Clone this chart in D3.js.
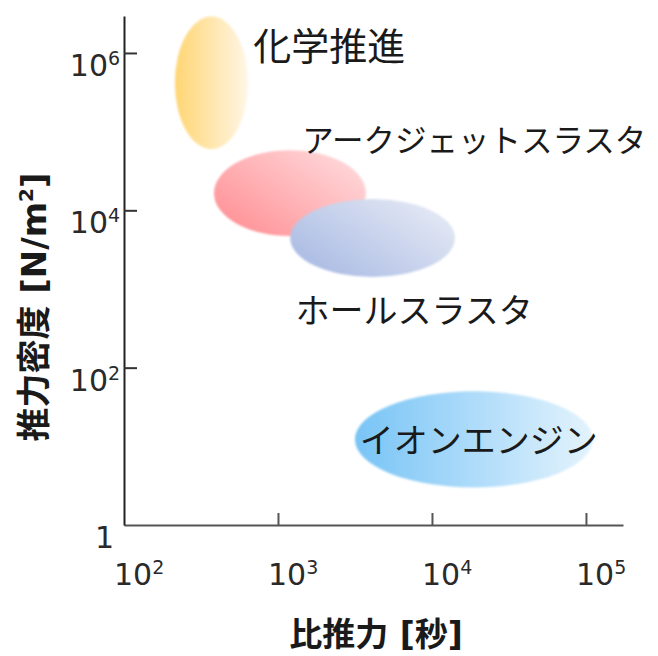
<!DOCTYPE html>
<html>
  <head>
    <meta charset="utf-8">
    <title>推力密度と比推力</title>
    <script src="https://cdn.jsdelivr.net/npm/d3@7/dist/d3.min.js"></script>
    <style>
      body { margin: 0; background: #fff; }
      text { fill: #1a1a1a; }
    </style>
  </head>
  <body>
    <svg width="658" height="656"></svg>
    <script>
      // 推進機の種類
      const engines = ['化学推進', 'アークジェットスラスタ', 'ホールスラスタ', 'イオンエンジン']
      // 比推力の範囲 [秒]
      const ispRange = [[214, 638], [384, 3720], [1200, 14100], [3160, 111000]]
      // 推力密度の範囲 [N/m2]
      const densityRange = [[6.0e4, 2.9e6], [4700, 5.8e4], [1420, 13900], [3.0, 50]]
      // ラベルの位置 (データ座標: 比推力, 推力密度)
      const labelIsp = [690, 1440, 1300, 3400]
      const labelDensity = [1.3e6, 8.3e4, 560, 12.4]
      // 目盛
      const xTicks = [1e2, 1e3, 1e4, 1e5]
      const yTicks = [1, 1e2, 1e4, 1e6]

      const colors = [
        ['#FFD674', '#FFF6E6'],
        ['#FF8A8F', '#FFD8DA'],
        ['#A3B6E1', '#E2E7F4'],
        ['#78C4F6', '#E4F3FD']
      ]
      // グラデーションの向き
      const gradDir = [
        { x1: 0, y1: 0, x2: 1, y2: 0 },
        { x1: 0, y1: 1, x2: 1, y2: 0.2 },
        { x1: 0, y1: 1, x2: 1, y2: 0.3 },
        { x1: 0, y1: 0, x2: 1, y2: 0 }
      ]
      const labelSize = [38, 31.5, 34, 34]

      const svg = d3.select('svg')

      const x = d3.scaleLog().domain([1e2, 1.74e5]).range([124, 623])
      const y = d3.scaleLog().domain([1, 2.95e6]).range([525, 16])

      const defs = svg.append('defs')
      defs.append('filter').attr('id', 'soft')
        .append('feGaussianBlur').attr('stdDeviation', 0.9)

      engines.forEach((name, i) => {
        const g = defs.append('linearGradient')
          .attr('id', 'grad' + i)
          .attr('x1', gradDir[i].x1).attr('y1', gradDir[i].y1)
          .attr('x2', gradDir[i].x2).attr('y2', gradDir[i].y2)
        g.append('stop').attr('offset', 0).attr('stop-color', colors[i][0])
        g.append('stop').attr('offset', 1).attr('stop-color', colors[i][1])
      })

      // 楕円 (範囲を表す)
      svg.append('g')
        .selectAll('ellipse')
        .data(engines)
        .enter()
        .append('ellipse')
        .attr('cx', (d, i) => (x(ispRange[i][0]) + x(ispRange[i][1])) / 2)
        .attr('cy', (d, i) => (y(densityRange[i][0]) + y(densityRange[i][1])) / 2)
        .attr('rx', (d, i) => (x(ispRange[i][1]) - x(ispRange[i][0])) / 2)
        .attr('ry', (d, i) => (y(densityRange[i][0]) - y(densityRange[i][1])) / 2)
        .attr('fill', (d, i) => `url(#grad${i})`)
        .attr('filter', 'url(#soft)')

      // ラベル
      svg.append('g')
        .selectAll('text')
        .data(engines)
        .enter()
        .append('text')
        .attr('x', (d, i) => x(labelIsp[i]))
        .attr('y', (d, i) => y(labelDensity[i]))
        .attr('dominant-baseline', 'central')
        .style('font-family', "'Noto Sans CJK JP', sans-serif")
        .style('font-size', (d, i) => labelSize[i] + 'px')
        .text((d) => d)

      // 軸
      const tickFont = "'DejaVu Sans', 'Noto Sans CJK JP', sans-serif"
      const xAxis = svg.append('g')
        .attr('transform', `translate(0,${y(1)})`)
        .call(d3.axisBottom(x).tickValues(xTicks).tickSize(-12).tickSizeOuter(0).tickFormat(''))
      xAxis.select('.domain').attr('stroke', '#555').attr('stroke-width', 2)
      xAxis.selectAll('.tick line').attr('stroke', '#555').attr('stroke-width', 2)
      xAxis.selectAll('.tick').filter((d) => d === 1e2).select('line').remove()

      const yAxis = svg.append('g')
        .attr('transform', `translate(${x(1e2)},0)`)
        .call(d3.axisLeft(y).tickValues(yTicks).tickSize(-13).tickSizeOuter(0).tickFormat(''))
      yAxis.select('.domain').attr('stroke', '#222').attr('stroke-width', 2)
      yAxis.selectAll('.tick line').attr('stroke', '#333').attr('stroke-width', 2)
      yAxis.selectAll('.tick').filter((d) => d === 1).select('line').remove()

      function powLabel(sel, v) {
        const e = Math.round(Math.log10(v))
        if (e === 0) {
          sel.text('1')
          return
        }
        sel.append('tspan').text('10')
        sel.append('tspan').attr('dy', -11).style('font-size', '19px').text(e)
      }

      svg.append('g')
        .selectAll('text')
        .data(xTicks)
        .enter()
        .append('text')
        .attr('x', (d) => x(d) - 10)
        .attr('y', 585)
        .style('font-family', tickFont)
        .style('font-size', '30px')
        .style('fill', '#2a2a2a')
        .each(function (d) { powLabel(d3.select(this), d) })

      svg.append('g')
        .selectAll('text')
        .data(yTicks)
        .enter()
        .append('text')
        .attr('x', (d) => (d === 1 ? 114 : 108))
        .attr('y', (d) => y(d) + 23)
        .attr('text-anchor', 'end')
        .style('font-family', tickFont)
        .style('font-size', '30px')
        .style('fill', '#2a2a2a')
        .each(function (d) {
          const e = Math.round(Math.log10(d))
          if (e === 0) {
            d3.select(this).text('1')
          } else {
            d3.select(this).append('tspan').text('10')
            // 指数は右上に付ける
            d3.select(this.parentNode).append('text')
              .attr('x', 108)
              .attr('y', y(d) + 12)
              .style('font-family', tickFont)
              .style('font-size', '19px')
              .style('fill', '#2a2a2a')
              .text(e)
          }
        })

      // 軸タイトル
      svg.append('text')
        .attr('x', 376)
        .attr('y', 646)
        .attr('text-anchor', 'middle')
        .style('font-family', tickFont)
        .style('font-weight', 'bold')
        .style('font-size', '33px')
        .text('比推力 [秒]')

      const yTitle = svg.append('text')
        .attr('transform', 'translate(46,307) rotate(-90)')
        .attr('text-anchor', 'middle')
        .style('font-family', tickFont)
        .style('font-weight', 'bold')
        .style('font-size', '34px')
      yTitle.append('tspan').text('推力密度 [N/m')
      yTitle.append('tspan').attr('dy', -13).style('font-size', '20px').text('2')
      yTitle.append('tspan').attr('dy', 13).text(']')
    </script>
  </body>
</html>
